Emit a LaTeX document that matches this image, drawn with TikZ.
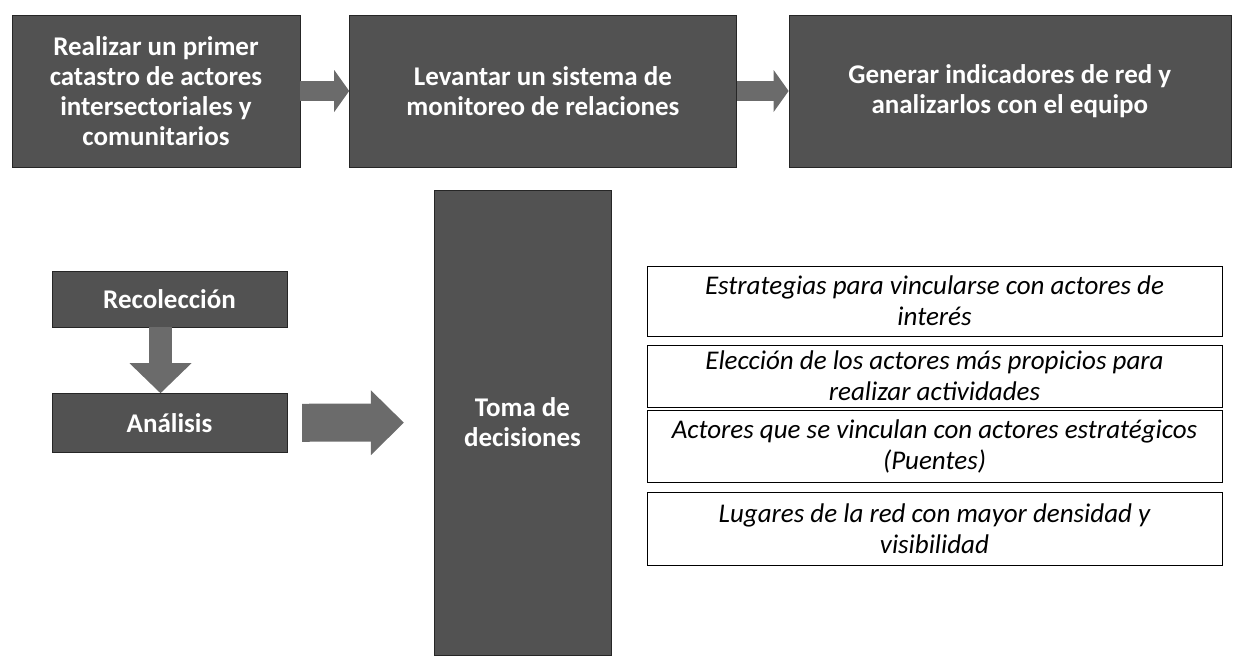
\documentclass[tikz,border=0pt]{standalone}
\usepackage{fontspec}
\setmainfont{Carlito}
\usetikzlibrary{arrows.meta,positioning}

\begin{document}
\begin{tikzpicture}[x=1pt, y=-1pt,
        darkbox/.style={draw=black!85, fill=black!68, text=white, align=flush center,
            inner sep=0pt, font=\bfseries\fontsize{27}{30}\selectfont},
        itembox/.style={draw=black, thin, minimum width=575pt, text width=565pt,
            align=flush center, inner sep=0pt, font=\itshape\fontsize{27}{31}\selectfont},
        fatarrow/.style={draw=black!58, line width=20pt,
            -{Triangle[width=42pt, length=15pt, line width=0pt 0]}}
    ]
        \useasboundingbox (0, 0) rectangle (1233, 659);

        % Top row
        \node[darkbox, minimum width=288pt, minimum height=152pt] (catastro) at (156, 91)
            {Realizar un primer\\catastro de actores\\intersectoriales y\\comunitarios};
        \node[darkbox, minimum width=387pt, minimum height=152pt, right=49pt of catastro] (monitoreo)
            {Levantar un sistema de\\monitoreo de relaciones};
        \node[darkbox, minimum width=442pt, minimum height=152pt, right=52pt of monitoreo] (indicadores)
            {Generar indicadores de red y\\analizarlos con el equipo};

        \draw[fatarrow] (catastro) -- (monitoreo);
        \draw[fatarrow] (monitoreo) -- (indicadores);

        % Cycle on the left
        \node[darkbox, minimum width=235pt, minimum height=56pt] (recoleccion) at (169.5, 299) {Recolección};
        \node[darkbox, minimum width=235pt, minimum height=59pt, below=66pt of recoleccion] (analisis) {Análisis};
        \draw[fatarrow, line width=23pt, -{Triangle[width=62pt, length=30pt, line width=0pt 0]}]
            ([xshift=-9pt]recoleccion.south) -- ([xshift=-9pt]analisis.north);

        % Decisions
        \node[darkbox, minimum width=177pt, minimum height=465pt] (toma) at (522.5, 422.5) {Toma de\\decisiones};
        \draw[fatarrow, line width=38pt, -{Triangle[width=65pt, length=33pt, line width=0pt 0]},
            shorten <=15pt, shorten >=30pt] (analisis) -- (toma);

        % List of uses
        \node[itembox, minimum height=70pt] (estrategias) at (934.5, 301)
            {Estrategias para vincularse con actores de\\interés};
        \node[itembox, minimum height=62pt] (eleccion) at (934.5, 376)
            {Elección de los actores más propicios para\\realizar actividades};
        \node[itembox, minimum height=72pt] (puentes) at (934.5, 446)
            {Actores que se vinculan con actores estratégicos\\(Puentes)};
        \node[itembox, minimum height=73pt] (lugares) at (934.5, 528.5)
            {Lugares de la red con mayor densidad y\\visibilidad};

    \end{tikzpicture}
\end{document}
